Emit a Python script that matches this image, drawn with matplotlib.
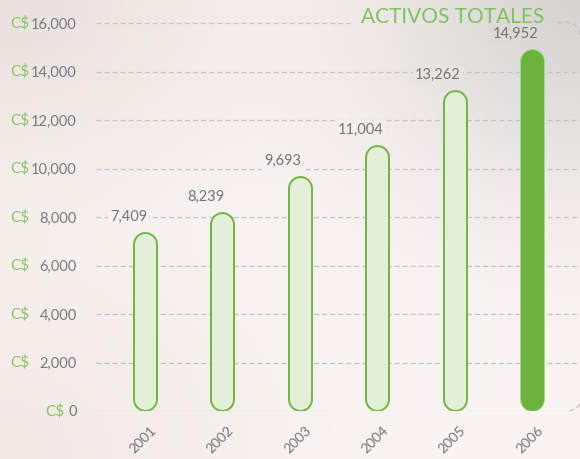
import numpy as np
import matplotlib
matplotlib.use("Agg")
import matplotlib.pyplot as plt
from matplotlib.patches import Arc

plt.rcParams['font.family'] = ['Lato', 'DejaVu Sans']
plt.rcParams['lines.scale_dashes'] = False

# ---- data ----
years = ["2001", "2002", "2003", "2004", "2005", "2006"]
values = [7409, 8239, 9693, 11004, 13262, 14952]
yticks = [0, 2000, 4000, 6000, 8000, 10000, 12000, 14000, 16000]
title = "ACTIVOS TOTALES"
currency = "C$"

W, H, DPI = 580, 459, 100
fig = plt.figure(figsize=(W / DPI, H / DPI), dpi=DPI)

# background overlay axes in pixel coordinates
bg = fig.add_axes([0, 0, 1, 1], zorder=0)
bg.set_xlim(0, W)
bg.set_ylim(H, 0)
bg.axis('off')
yy, xx = np.mgrid[0:H, 0:W]
base = np.array([0.978, 0.958, 0.948])
img = np.ones((H, W, 3)) * base
tl = np.exp(-(((xx - 0) / 220.0) ** 2 + ((yy - 0) / 160.0) ** 2))
tr = np.exp(-(((xx - W) / 200.0) ** 2 + ((yy - 0) / 180.0) ** 2))
bl = np.exp(-(((xx - 0) / 250.0) ** 2 + ((yy - H) / 200.0) ** 2))
img -= tl[..., None] * np.array([0.06, 0.07, 0.07])
img -= tr[..., None] * np.array([0.13, 0.12, 0.11])
img -= bl[..., None] * np.array([0.03, 0.04, 0.04])
img = np.clip(img, 0, 1)
bg.imshow(img, extent=[0, W, H, 0], aspect='auto', zorder=0)

grid_c = '#c4c0c0'
dash = (0, (3.6, 2.2))
# decorative rounded corners of the frame
bg.add_patch(Arc((565, 37), 30, 30, theta1=270, theta2=360, color=grid_c, lw=0.9,
                 linestyle=dash, zorder=1))
bg.add_patch(Arc((567, 396), 30, 30, theta1=0, theta2=90, color=grid_c, lw=0.9,
                 linestyle=dash, zorder=1))
bg.plot([557, 565], [22, 22], color=grid_c, lw=0.9, linestyle=dash, zorder=1)

# main axes
left_px, right_px = 96, 580
top_px, bot_px = 23, 411
ax = fig.add_axes([left_px / W, (H - bot_px) / H, (right_px - left_px) / W,
                   (bot_px - top_px) / H], zorder=2)
ax.patch.set_alpha(0)
x = np.arange(len(years))
ax.set_xlim(-0.633, 5.62)
ax.set_ylim(0, 16000)
for s in ax.spines.values():
    s.set_visible(False)

# gridlines
for t in yticks:
    if t == 16000:
        xmax = -0.633 + (350 - 96) / 77.4
    elif t == 0:
        xmax = -0.633 + (567 - 96) / 77.4
    else:
        xmax = 5.62
    ax.hlines(t, -0.633, xmax, colors=grid_c, lw=0.9, linestyles=dash, zorder=1)

# pill bars
px_per_unit_y = (bot_px - top_px) / 16000.0
px_per_unit_x = (right_px - left_px) / (5.62 + 0.633)
outer_px, inner_px = 25, 21
r = (outer_px / 2) / px_per_unit_y
green = '#72b843'
light = '#e3efd8'
solid = '#6cb33e'
for i, v in enumerate(values):
    last = i == len(values) - 1
    ax.plot([x[i], x[i]], [r, v - r], color=('#a9d68c' if last else green),
            lw=outer_px * 72 / DPI, solid_capstyle='round', zorder=3)
    ax.plot([x[i], x[i]], [r, v - r], color=(solid if last else light),
            lw=(inner_px + (2 if last else 0)) * 72 / DPI,
            solid_capstyle='round', zorder=4)
    lx = int(left_px + (x[i] + 0.633) * px_per_unit_x - 16)
    ly = int(bot_px - v * px_per_unit_y - 14)
    fc = tuple(img[max(ly, 0), min(max(lx, 0), W - 1)])
    ax.annotate(f"{v:,}", (x[i], v), xytext=(-12, 10.5),
                textcoords='offset points', ha='center', va='center',
                fontsize=10.5, color='#747474', zorder=5,
                bbox=dict(boxstyle='square,pad=0.15', fc=fc, ec='none'))

# year labels
ax.set_xticks([])
for i, yr in enumerate(years):
    ax.text(x[i] - 0.03, -0.075, yr, transform=ax.get_xaxis_transform(),
            rotation=45, ha='center', va='center', fontsize=10, color='#747474')

# y labels
ax.set_yticks(yticks)
ax.set_yticklabels([f"{t:,}" for t in yticks], fontsize=10.5, color='#7a7a7a')
ax.tick_params(axis='y', length=0, pad=19 * 72 / DPI)
for t in yticks:
    ypx = bot_px - t * px_per_unit_y
    if t == 0:
        bg.text(64, ypx, currency, ha='right', va='center', fontsize=11,
                color='#86c460', zorder=2)
    else:
        bg.text(10, ypx, currency, ha='left', va='center', fontsize=11,
                color='#86c460', zorder=2)

# title
bg.text(453, 17, title, ha='center', va='center', fontsize=15,
        color='#80c35c', fontweight='normal', zorder=2)

fig.savefig("out.png", dpi=DPI)
